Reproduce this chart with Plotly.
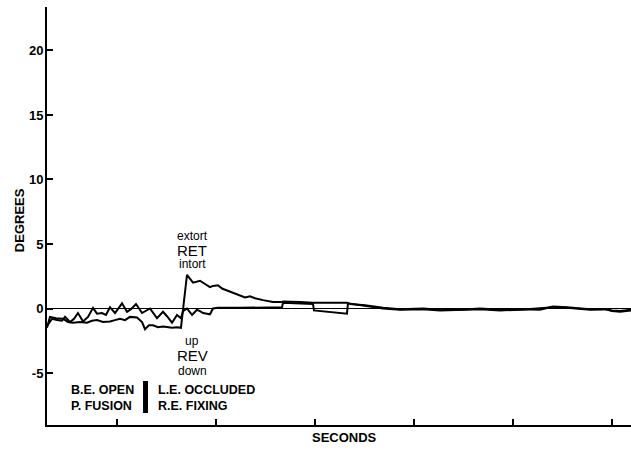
import plotly.graph_objects as go

# RET (torsion) trace
ret_x = [0.293, 0.323, 0.384, 0.455, 0.505, 0.556, 0.626, 0.697, 0.747, 0.798, 0.859, 0.929, 0.980,
         1.030, 1.081, 1.131, 1.202, 1.253, 1.283, 1.323, 1.364, 1.414, 1.465, 1.515, 1.556, 1.606,
         1.646, 1.677, 1.707, 1.768, 1.838, 1.889, 1.939, 1.970, 2.020, 2.061, 2.141, 2.222, 2.293,
         2.343, 2.394, 2.475, 2.576, 2.667, 2.677, 2.848, 2.980, 3.152, 3.323, 3.354, 3.505, 3.687,
         3.859, 4.091, 4.263, 4.465, 4.667, 4.869, 5.071, 5.273, 5.404, 5.545, 5.778, 5.929, 6.000,
         6.081, 6.192]
ret_y = [-1.5, -0.65, -0.75, -0.8, -1.05, -1.1, -1.05, -1.1, -0.95, -0.9, -1.05, -1.0, -0.9,
         -0.8, -0.9, -0.65, -0.7, -1.05, -1.6, -1.3, -1.3, -1.45, -1.4, -1.45, -1.5, -1.45,
         -1.5, 0.6, 2.6, 2.0, 2.15, 1.9, 1.65, 1.75, 1.8, 1.55, 1.3, 1.05, 0.85,
         0.95, 0.8, 0.65, 0.5, 0.5, 0.55, 0.5, 0.45, 0.45, 0.45, 0.35, 0.25, 0.05,
         -0.05, 0.0, -0.1, -0.1, 0.0, -0.1, -0.05, -0.1, 0.15, 0.1, -0.05, -0.05, -0.15,
         -0.2, -0.1]

# REV (vertical) trace
rev_x = [0.293, 0.323, 0.343, 0.394, 0.444, 0.475, 0.525, 0.566, 0.606, 0.657, 0.707, 0.758, 0.798,
         0.848, 0.889, 0.929, 0.980, 1.051, 1.101, 1.141, 1.192, 1.253, 1.293, 1.333, 1.404, 1.465,
         1.505, 1.556, 1.606, 1.646, 1.667, 1.707, 1.758, 1.808, 1.838, 1.869, 1.909, 1.939, 1.970,
         2.020, 2.242, 2.444, 2.667, 2.677, 2.980, 2.990, 3.323, 3.333, 3.505, 3.687, 3.859, 4.091,
         4.263, 4.465, 4.667, 4.869, 5.071, 5.404, 5.545, 5.778, 5.929, 6.000, 6.081, 6.192]
rev_y = [-1.35, -1.0, -0.8, -0.9, -0.95, -0.65, -1.05, -0.8, -0.35, -1.0, -0.65, 0.05, -0.4,
         -0.35, -0.5, 0.1, -0.35, 0.4, -0.25, -0.05, 0.35, -0.35, -0.2, 0.0, -0.75, -0.25,
         -0.6, -1.1, -0.5, -0.75, -0.2, 0.0, -0.5, -0.1, -0.2, -0.35, -0.4, -0.45, 0.0,
         0.05, 0.05, 0.1, 0.1, 0.45, 0.35, -0.15, -0.4, 0.4, 0.2, 0.0, -0.1, -0.05,
         -0.15, -0.1, -0.05, -0.15, -0.1, 0.1, 0.05, -0.1, -0.05, -0.2, -0.25, -0.15]

y_ticks = [-5, 0, 5, 10, 15, 20]
x_ticks = [1, 2, 3, 4, 5, 6]

FONT = "Liberation Sans, Arial, sans-serif"
BOLD = dict(family=FONT, weight="bold", color="black")

fig = go.Figure()
fig.add_trace(go.Scatter(x=ret_x, y=ret_y, mode="lines", line=dict(color="black", width=2),
                         name="RET", showlegend=False))
fig.add_trace(go.Scatter(x=rev_x, y=rev_y, mode="lines", line=dict(color="black", width=2),
                         name="REV", showlegend=False))

fig.update_layout(
    width=631, height=451,
    margin=dict(l=47, r=0, t=7, b=26),
    paper_bgcolor="white", plot_bgcolor="white",
    font=dict(family=FONT, size=13, color="black"),
    xaxis=dict(range=[0.293, 6.192], tickvals=x_ticks, showticklabels=False,
               ticks="inside", ticklen=6, tickwidth=1.5, tickcolor="black",
               showline=True, linecolor="black", linewidth=2, showgrid=False, zeroline=False),
    yaxis=dict(range=[-9.03, 23.37], tickvals=y_ticks, ticktext=[str(v) for v in y_ticks],
               ticks="inside", ticklen=6, tickwidth=1.5, tickcolor="black",
               ticklabelstandoff=-1,
               showline=True, linecolor="black", linewidth=2, showgrid=False,
               zeroline=True, zerolinecolor="black", zerolinewidth=1,
               tickfont=dict(size=13, **BOLD)),
)

ann = []
# axis titles
ann.append(dict(text="DEGREES", xref="paper", yref="paper", x=-0.048, y=0.49, showarrow=False,
                textangle=-90, font=dict(size=13, **BOLD), xanchor="center", yanchor="middle"))
ann.append(dict(text="SECONDS", xref="paper", yref="paper", x=0.51, y=-0.031, showarrow=False,
                font=dict(size=13, **BOLD), xanchor="center", yanchor="middle"))
# RET / REV labels
for txt, yy, sz in [("extort", 5.62, 12), ("RET", 4.53, 15), ("intort", 3.45, 12),
                    ("up", -2.52, 12), ("REV", -3.68, 15), ("down", -4.84, 12)]:
    ann.append(dict(text=txt, x=1.76, y=yy, showarrow=False, font=dict(size=sz, family=FONT),
                    xanchor="center", yanchor="middle"))
# condition labels
for txt, xx, yy in [("B.E. OPEN", 0.515, -6.32), ("P. FUSION", 0.515, -7.56),
                    ("L.E. OCCLUDED", 1.395, -6.32), ("R.E. FIXING", 1.395, -7.56)]:
    ann.append(dict(text=txt, x=xx, y=yy, showarrow=False, font=dict(size=12.5, **BOLD),
                    xanchor="left", yanchor="middle"))
fig.update_layout(annotations=ann)

fig.add_shape(type="rect", x0=1.263, x1=1.313, y0=-8.1, y1=-5.62,
              fillcolor="black", line=dict(width=0))

fig.write_html("out.html", config={"displayModeBar": False},
               post_script="document.body.style.margin='0';")
